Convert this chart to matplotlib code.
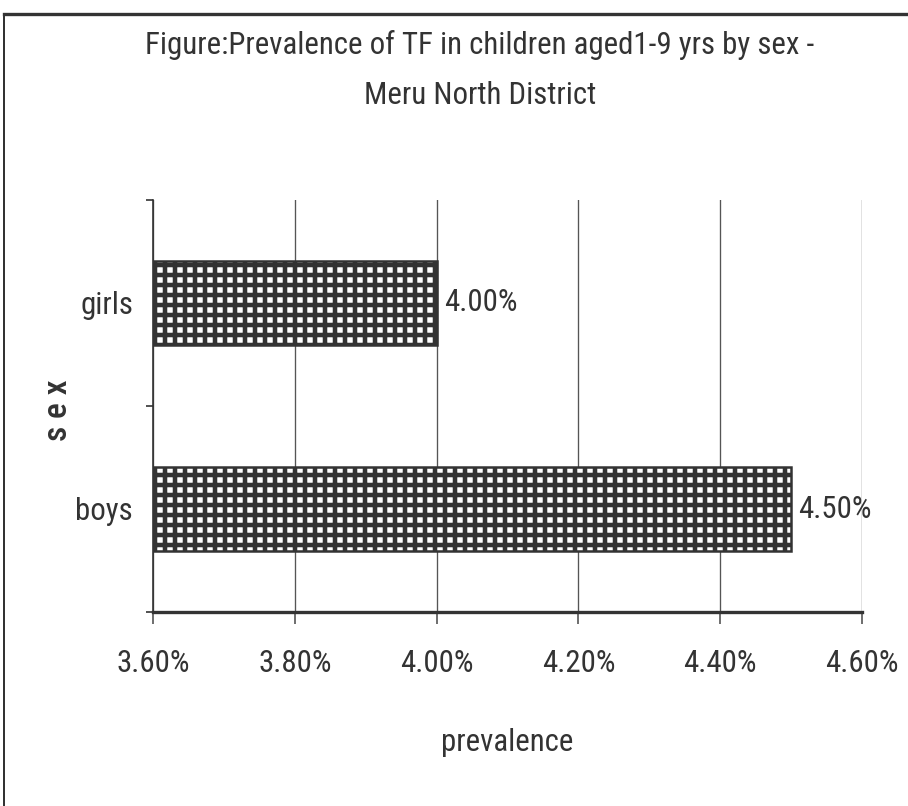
#!/usr/bin/env python
# -*- coding: utf-8 -*-

import matplotlib
matplotlib.use('Agg')
import matplotlib.pyplot as plt
from matplotlib import font_manager
from matplotlib.lines import Line2D
from matplotlib.ticker import FuncFormatter, FixedLocator

# TF prevalence, children 1-9 yrs, Meru North
groups = ['boys', 'girls']
prevalence = [4.50, 4.00]
xticks = [3.60, 3.80, 4.00, 4.20, 4.40, 4.60]

ink = '#333333'


def pick_font():
    # prefer a condensed face when one is around
    names = {f.name for f in font_manager.fontManager.ttflist}
    for name in ['Liberation Sans Narrow', 'Roboto Condensed', 'Open Sans Condensed',
                 'Liberation Sans']:
        if name in names:
            return name
    return 'DejaVu Sans'


def main():
    font = pick_font()
    plt.rcParams['font.family'] = [font, 'DejaVu Sans']
    plt.rcParams['hatch.linewidth'] = 2.7

    fs = 15.5 if font == 'Liberation Sans' else 18.5

    dpi = 120
    fig = plt.figure(figsize = (908 / dpi, 806 / dpi), dpi = dpi)
    W, H = 908.0, 806.0
    ax = fig.add_axes([153 / W, 1 - 612 / H, 709 / W, 412 / H])

    ypos = list(range(len(groups)))
    ax.barh(
        ypos, prevalence,
        left = 0, height = 0.41,
        color = 'white', edgecolor = ink,
        hatch = '++', linewidth = 1.5, zorder = 3
    )
    ax.set_xlim(xticks[0], xticks[-1])
    ax.set_ylim(-0.5, len(groups) - 0.5)

    for y, v in zip(ypos, prevalence):
        ax.text(v + 0.01, y, '%.2f%%' % v, va = 'center', ha = 'left',
                fontsize = fs, color = ink, zorder = 4)

    ax.xaxis.set_major_locator(FixedLocator(xticks))
    ax.xaxis.set_major_formatter(FuncFormatter(lambda x, p: '%.2f%%' % x))
    ax.set_yticks(ypos)
    ax.set_yticklabels(groups)
    ax.yaxis.set_minor_locator(FixedLocator([-0.5, 0.5, 1.5]))
    ax.tick_params(axis = 'y', which = 'major', length = 0, pad = 12,
                   labelsize = fs, labelcolor = ink)
    ax.tick_params(axis = 'y', which = 'minor', length = 4, width = 1, color = ink)
    ax.tick_params(axis = 'x', length = 7, width = 1, color = '#555555',
                   pad = 15, labelsize = fs, labelcolor = ink)

    ax.grid(axis = 'x', color = '#555555', linewidth = 0.8, zorder = 0)
    for side in ['top', 'right']:
        ax.spines[side].set_visible(False)
    ax.spines['left'].set_color(ink)
    ax.spines['left'].set_linewidth(1)
    ax.spines['bottom'].set_color(ink)
    ax.spines['bottom'].set_linewidth(2)

    ax.set_xlabel('prevalence', fontsize = fs, color = ink, labelpad = 30)
    ax.set_ylabel('s e x', fontsize = 20, color = ink, fontweight = 'medium')
    ax.yaxis.set_label_coords(-0.112, 0.49)

    fig.text(480 / W, 1 - 45 / H,
             'Figure:Prevalence of TF in children aged1-9 yrs by sex -',
             ha = 'center', va = 'center', fontsize = 18.5, color = ink)
    fig.text(480 / W, 1 - 95 / H, 'Meru North District',
             ha = 'center', va = 'center', fontsize = 18.5, color = ink)

    # frame around the chart (top and left edges)
    fig.add_artist(Line2D([4 / W, 1], [1 - 14 / H, 1 - 14 / H],
                          color = ink, linewidth = 2, transform = fig.transFigure))
    fig.add_artist(Line2D([4 / W, 4 / W], [1 - 14 / H, 0],
                          color = ink, linewidth = 1.2, transform = fig.transFigure))

    fig.savefig('out.png', dpi = dpi)


if __name__ == "__main__":
    main()
